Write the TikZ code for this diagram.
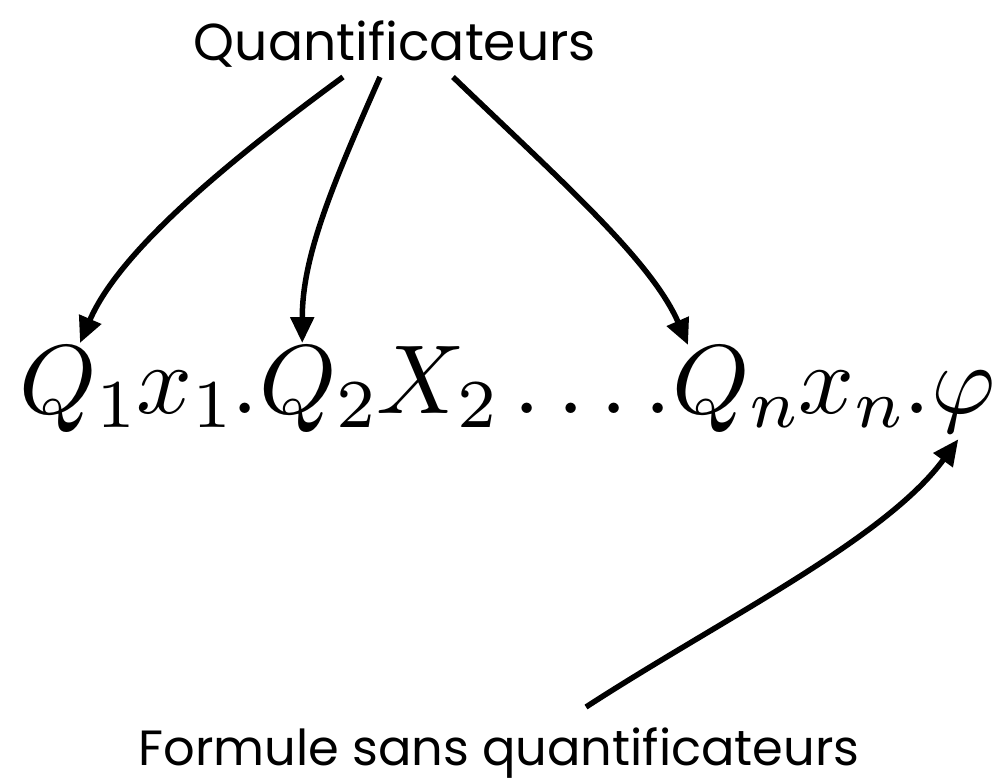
\RequirePackage{fix-cm}
\documentclass[tikz,border=0pt]{standalone}
\usepackage[no-math]{fontspec}
\setmainfont{Poppins}
\DeclareFontShape{OML}{cmm}{m}{it}{<-80> cmmi7 <80-> cmmi10}{\skewchar\font'177}
\DeclareFontShape{OT1}{cmr}{m}{n}{<-80> cmr7 <80-> cmr10}{}
\DeclareMathSizes{98}{98}{68.6}{49}
\usetikzlibrary{arrows.meta,calc}
\begin{document}
\begin{tikzpicture}[x=1pt,y=-1pt,
  lbl/.style={inner sep=0pt},
  fml/.style={font=\fontsize{98}{120}\selectfont, inner sep=0pt, anchor=base west},
  arr/.style={line width=5.5pt, -{Triangle[length=26pt,width=23pt]}}]
\useasboundingbox (0,0) rectangle (1001,779);
\node[lbl, font=\fontsize{52}{60}\selectfont, anchor=base] (top) at (395,60) {Quantificateurs};
\node[lbl, font=\fontsize{49.5}{60}\selectfont, anchor=base] (bot) at (499,765) {Formule sans quantificateurs};
\node[fml] (q1) at (19,413) {$Q_1x_1.$};
\node[fml] (q2) at (q1.base east) {$Q_2X_2$};
\node[fml] (dd) at (q2.base east) {$\mkern3mu.\mkern3mu.\mkern3mu.\mkern3mu.$};
\node[fml] (qn) at (dd.base east) {$Q_nx_n.$};
\node[fml] (phi) at (qn.base east) {$\varphi$};
\coordinate (s1) at (343,77);
\coordinate (s2) at (380,77);
\coordinate (s3) at (453,77);
\coordinate (s4) at (586,707);
\coordinate (t1) at ($(q1.base west)+(61,-70)$);
\coordinate (t2) at ($(q2.base west)+(43,-70)$);
\coordinate (t3) at ($(qn.base west)+(16,-68)$);
\coordinate (t4) at ($(phi.south)+(-5,7)$);
\draw[arr] (s1) .. controls (230,160) and ($(t1)+(40,-93)$) .. (t1);
\draw[arr] (s2) .. controls (330,190) and ($(t2)+(0,-85)$) .. (t2);
\draw[arr] (s3) .. controls (560,180) and ($(t3)+(-37,-85)$) .. (t3);
\draw[arr] (s4) .. controls (720,620) and ($(t4)+(-73,100)$) .. (t4);
\end{tikzpicture}
\end{document}
